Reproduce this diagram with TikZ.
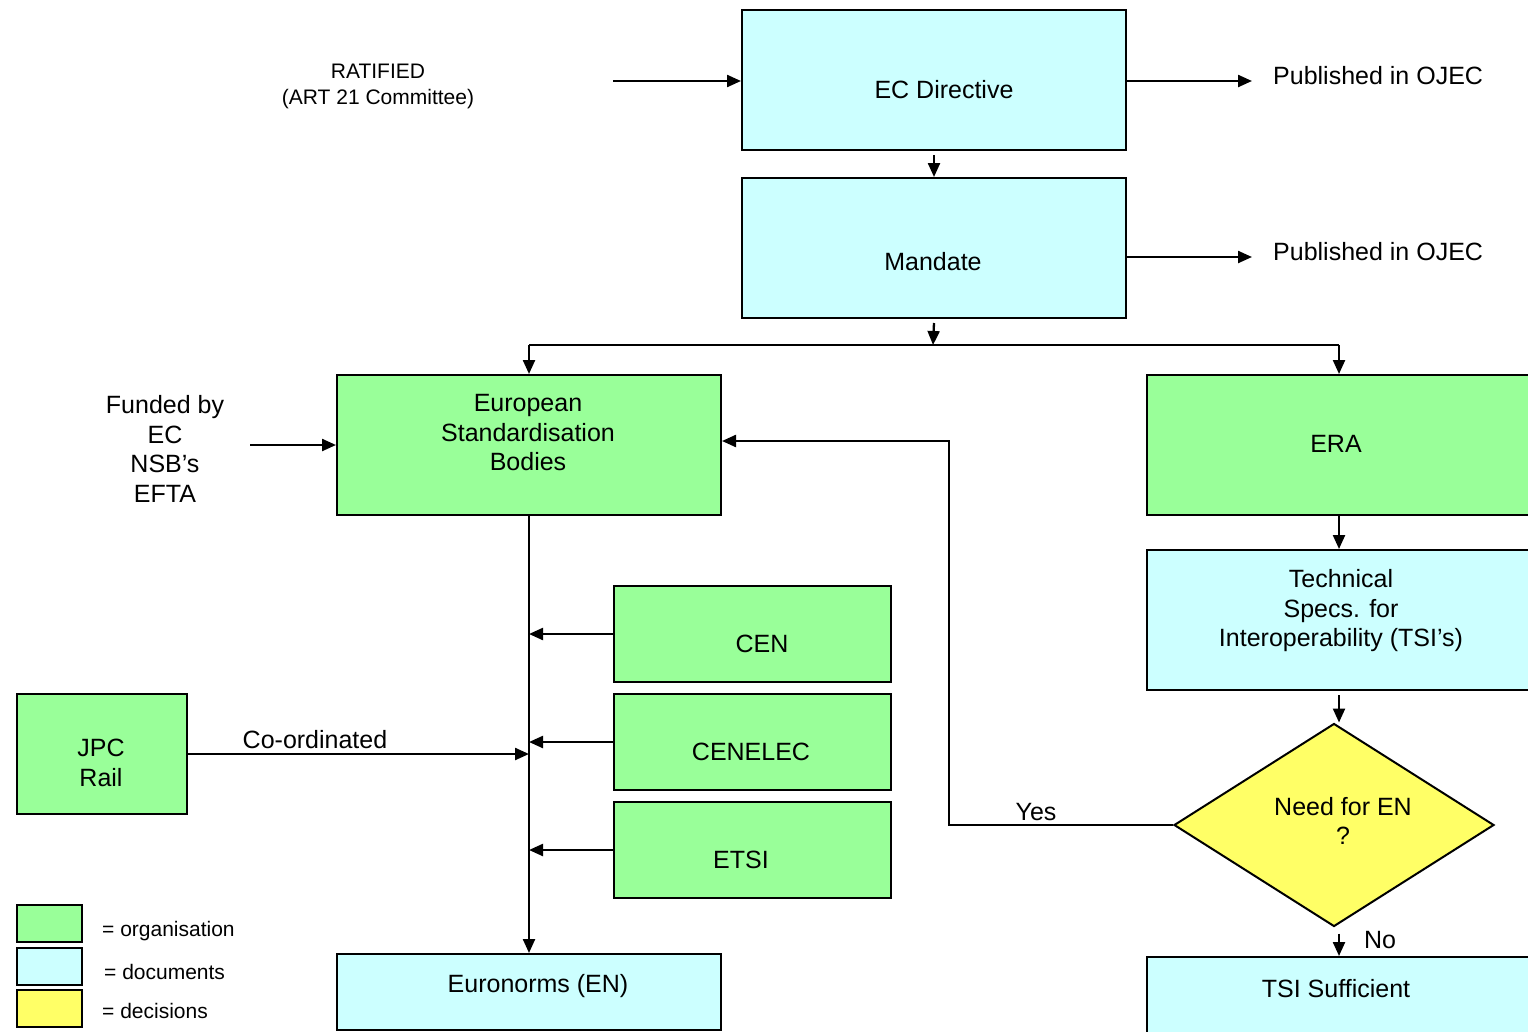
\documentclass[tikz,border=0pt]{standalone}
\usepackage{fontspec}
\setmainfont{Liberation Sans}
\usetikzlibrary{arrows.meta,shapes.geometric}
\definecolor{orggreen}{HTML}{99FF99}
\definecolor{doccyan}{HTML}{CCFFFF}
\definecolor{decyellow}{HTML}{FFFF66}
\begin{document}
\begin{tikzpicture}[x=1pt,y=-1pt,
  box/.style={draw=black, line width=2pt, inner sep=0pt, anchor=north west},
  org/.style={box, fill=orggreen},
  doc/.style={box, fill=doccyan},
  legbox/.style={draw=black, line width=1.5pt, inner sep=0pt, anchor=north west, minimum width=65pt, minimum height=37pt},
  txt/.style={font=\fontsize{25}{29.5}\selectfont, align=center, inner sep=0pt},
  smalltxt/.style={font=\fontsize{21}{26}\selectfont, align=center, inner sep=0pt},
  arr/.style={line width=2.3pt, -{Triangle[length=14pt,width=12pt]}},
  ln/.style={line width=2.3pt}]
\useasboundingbox (0,0) rectangle (1528,1031);
\clip (0,0) rectangle (1528,1031);

% boxes
\node[doc, minimum width=384pt, minimum height=140pt] (ec) at (741,9) {};
\node[doc, minimum width=384pt, minimum height=140pt] (mandate) at (741,177) {};
\node[org, minimum width=384pt, minimum height=140pt] (esb) at (336,374) {};
\node[org, minimum width=384pt, minimum height=140pt] (era) at (1146,374) {};
\node[doc, minimum width=384pt, minimum height=140pt] (tsi) at (1146,549) {};
\node[org, minimum width=277pt, minimum height=96pt] (cen) at (613,585) {};
\node[org, minimum width=277pt, minimum height=96pt] (cenelec) at (613,693) {};
\node[org, minimum width=277pt, minimum height=96pt] (etsi) at (613,801) {};
\node[org, minimum width=170pt, minimum height=120pt] (jpc) at (16,693) {};
\node[doc, minimum width=384pt, minimum height=76pt] (euro) at (336,953) {};
\node[doc, minimum width=384pt, minimum height=140pt] (suff) at (1146,956) {};
\node[diamond, draw=black, line width=2pt, fill=decyellow, inner sep=0pt,
      minimum width=320pt, minimum height=203pt] (dia) at (1334,825) {};

% legend
\node[legbox, fill=orggreen] (leg1) at (16,904) {};
\node[legbox, fill=doccyan] (leg2) at (16,947) {};
\node[legbox, fill=decyellow] (leg3) at (16,989) {};
\node[smalltxt, anchor=west] (leg1t) at (102,931) {= organisation};
\node[smalltxt, anchor=west] (leg2t) at (104,972) {= documents};
\node[smalltxt, anchor=west] (leg3t) at (102,1011) {= decisions};

% texts
\node[txt] (ectxt) at (944,90) {EC Directive};
\node[txt] (mandtxt) at (933,262) {Mandate};
\node[txt] (esbtxt) at (528,433) {European\\Standardisation\\Bodies};
\node[txt] (eratxt) at (1336,444) {ERA};
\node[txt] (tsitxt) at (1341,611) {Technical\\Specs. for\\Interoperability (TSI’s)};
\node[txt] (centxt) at (762,644) {CEN};
\node[txt] (cenelectxt) at (751,752) {CENELEC};
\node[txt] (etsitxt) at (741,860) {ETSI};
\node[txt] (jpctxt) at (101,763) {JPC\\Rail};
\node[txt] (eurotxt) at (538,986) {Euronorms (EN)};
\node[txt] (sufftxt) at (1336,989) {TSI Sufficient};
\node[txt] (diatxt) at (1343,821) {Need for EN\\?};
\node[smalltxt] (rattxt) at (378,86) {RATIFIED\\(ART 21 Committee)};
\node[txt] (fundtxt) at (165,449) {Funded by\\EC\\NSB’s\\EFTA};
\node[txt, anchor=west] (pub1) at (1273,76) {Published in OJEC};
\node[txt, anchor=west] (pub2) at (1273,252) {Published in OJEC};
\node[txt] (coordtxt) at (315,740) {Co-ordinated};
\node[txt] (yestxt) at (1036,812) {Yes};
\node[txt] (notxt) at (1380,940) {No};

% connectors
\coordinate (ratstart) at (613,81);
\draw[arr] (ratstart) -- (ratstart -| ec.west);
\coordinate (pub1end) at (1252,81);
\draw[arr] (pub1end -| ec.east) -- (pub1end);
\coordinate (pub2end) at (1252,257);
\draw[arr] (pub2end -| mandate.east) -- (pub2end);
\draw[arr] ([yshift=-4pt]ec.south) -- (mandate.north);
\coordinate (split) at (933,345);
\draw[arr] ([yshift=-4pt]mandate.south) -- (split);
\draw[ln] (esb.north |- split) -- (era.north |- split);
\draw[arr] (esb.north |- split) -- (esb.north);
\draw[arr] (era.north |- split) -- (era.north);
\coordinate (fundstart) at (250,445);
\draw[arr] (fundstart) -- (fundstart -| esb.west);
\draw[arr] (era.south) -- (tsi.north);
\draw[arr] ([yshift=-4pt]tsi.south) -- (tsi.south |- dia.north);
\coordinate (yesturn) at (949,441);
\draw[arr] (dia.west) -| (yesturn) -- (esb.east |- yesturn);
\draw[arr] ([yshift=-6pt]dia.south -| tsi.south) -- (suff.north);
\draw[arr] (esb.south) -- (esb.south |- euro.north);
\draw[arr] (cen.west) -- (cen.west -| esb.south);
\draw[arr] (cenelec.west) -- (cenelec.west -| esb.south);
\draw[arr] (etsi.west) -- (etsi.west -| esb.south);
\draw[arr] (jpc.east) -- (jpc.east -| esb.south);
\end{tikzpicture}
\end{document}
